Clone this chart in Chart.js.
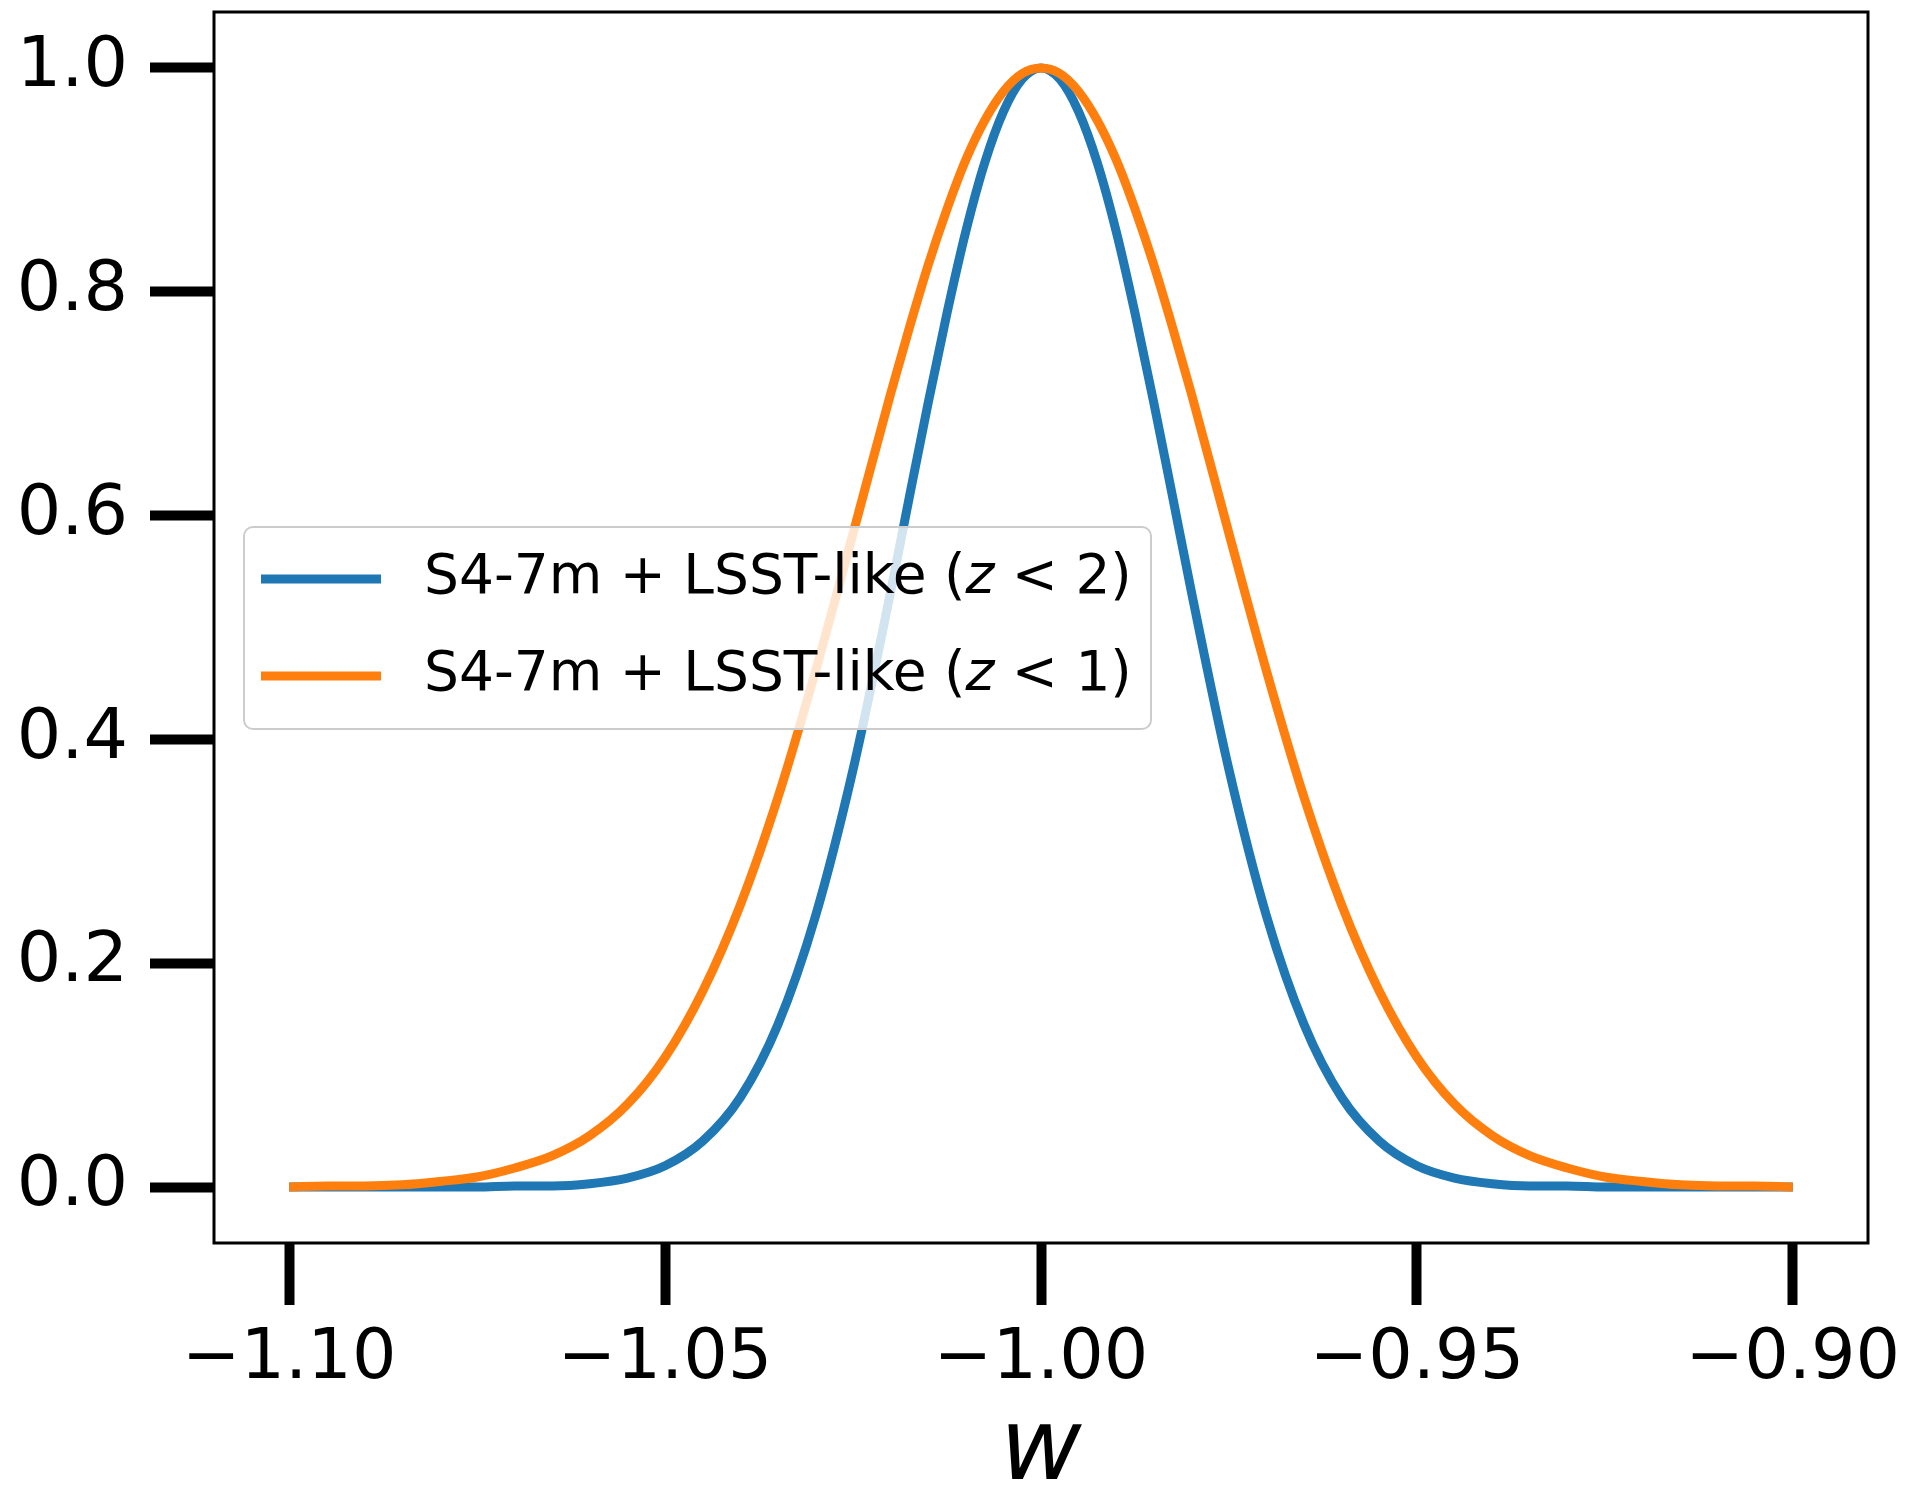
<!DOCTYPE html>
<html>
<head>
<meta charset="utf-8">
<title>w posterior</title>
<script src="https://cdn.jsdelivr.net/npm/chart.js@4.4.1/dist/chart.umd.min.js"></script>
<style>
  html, body { margin: 0; padding: 0; background: #ffffff; }
  #chart-container { width: 1910px; height: 1496px; position: relative; }
</style>
</head>
<body>
<div id="chart-container"><canvas id="chart"></canvas></div>
<script>
// values: w from -1.10 to -0.90, every 0.005 (every 0.0025 near the peak)
const wValues = [
  -1.100, -1.095, -1.090, -1.085, -1.080, -1.075, -1.070, -1.065, -1.060, -1.055,
  -1.050, -1.045, -1.040, -1.035, -1.030, -1.025,
  -1.020, -1.0175, -1.015, -1.0125, -1.010, -1.0075, -1.005, -1.0025,
  -1.000,
  -0.9975, -0.995, -0.9925, -0.990, -0.9875, -0.985, -0.9825, -0.980,
  -0.975, -0.970, -0.965, -0.960, -0.955,
  -0.950, -0.945, -0.940, -0.935, -0.930, -0.925, -0.920, -0.915, -0.910, -0.905,
  -0.900
];

const blueValues = [
  0.000, 0.000, 0.000, 0.000, 0.000, 0.000, 0.001, 0.001, 0.003, 0.008,
  0.019, 0.041, 0.080, 0.145, 0.242, 0.373,
  0.532, 0.617, 0.701, 0.781, 0.854, 0.915, 0.961, 0.990,
  1.000,
  0.990, 0.961, 0.915, 0.854, 0.781, 0.701, 0.617, 0.532,
  0.373, 0.242, 0.145, 0.080, 0.041,
  0.019, 0.008, 0.003, 0.001, 0.001, 0.000, 0.000, 0.000, 0.000, 0.000,
  0.000
];

const orangeValues = [
  0.000, 0.001, 0.001, 0.002, 0.005, 0.009, 0.017, 0.028, 0.046, 0.074,
  0.116, 0.175, 0.252, 0.348, 0.461, 0.584,
  0.709, 0.768, 0.824, 0.874, 0.918, 0.953, 0.979, 0.995,
  1.000,
  0.995, 0.979, 0.953, 0.918, 0.874, 0.824, 0.768, 0.709,
  0.584, 0.461, 0.348, 0.252, 0.175,
  0.116, 0.074, 0.046, 0.028, 0.017, 0.009, 0.005, 0.002, 0.001, 0.001,
  0.000
];

const seriesLabels = ["S4-7m + LSST-like (z < 2)", "S4-7m + LSST-like (z < 1)"];
const seriesColors = ["#1f77b4", "#ff7f0e"];

const xTicks = [-1.10, -1.05, -1.00, -0.95, -0.90];
const yTicks = [0.0, 0.2, 0.4, 0.6, 0.8, 1.0];

const FONT = "'DejaVu Sans', sans-serif";

function toPoints(xs, ys) {
  return xs.map((x, i) => ({ x: x, y: ys[i] }));
}

// matplotlib-like box round the axes
const framePlugin = {
  id: "frame",
  afterDatasetsDraw(chart) {
    const { ctx, chartArea } = chart;
    ctx.save();
    ctx.strokeStyle = "#000";
    ctx.lineWidth = 3;
    ctx.strokeRect(chartArea.left, chartArea.top, chartArea.right - chartArea.left, chartArea.bottom - chartArea.top);
    ctx.restore();
  },
};

// legend inside the axes, with an italic z like the mathtext label
const legendPlugin = {
  id: "insideLegend",
  afterDatasetsDraw(chart) {
    const { ctx, chartArea } = chart;
    const boxX = chartArea.left + 30;
    const boxY = 527;
    const boxW = 907;
    const boxH = 202;
    const fontSize = 55;

    ctx.save();
    ctx.beginPath();
    ctx.roundRect(boxX, boxY, boxW, boxH, 9);
    ctx.fillStyle = "rgba(255,255,255,0.8)";
    ctx.fill();
    ctx.strokeStyle = "#cccccc";
    ctx.lineWidth = 2;
    ctx.stroke();

    seriesLabels.forEach((label, i) => {
      const rowY = boxY + 52 + i * 97;
      ctx.beginPath();
      ctx.moveTo(boxX + 17, rowY);
      ctx.lineTo(boxX + 137, rowY);
      ctx.strokeStyle = seriesColors[i];
      ctx.lineWidth = 9;
      ctx.stroke();

      const zAt = label.indexOf("(z") + 1;
      const parts = [
        { text: label.slice(0, zAt), style: "normal" },
        { text: "z", style: "italic" },
        { text: label.slice(zAt + 1), style: "normal" },
      ];
      let tx = boxX + 180;
      ctx.fillStyle = "#000";
      ctx.textBaseline = "middle";
      ctx.textAlign = "left";
      parts.forEach((p) => {
        ctx.font = p.style + " " + fontSize + "px " + FONT;
        ctx.fillText(p.text, tx, rowY);
        tx += ctx.measureText(p.text).width;
      });
    });
    ctx.restore();
  },
};

const canvas = document.getElementById("chart");

new Chart(canvas.getContext("2d"), {
  type: "line",
  data: {
    datasets: [
      {
        label: seriesLabels[0],
        data: toPoints(wValues, blueValues),
        borderColor: seriesColors[0],
        borderWidth: 9,
        pointRadius: 0,
        cubicInterpolationMode: "monotone",
        fill: false,
        order: 1,
      },
      {
        label: seriesLabels[1],
        data: toPoints(wValues, orangeValues),
        borderColor: seriesColors[1],
        borderWidth: 9,
        pointRadius: 0,
        cubicInterpolationMode: "monotone",
        fill: false,
        order: 0,
      },
    ],
  },
  options: {
    responsive: true,
    maintainAspectRatio: false,
    animation: false,
    layout: { padding: { left: 0, top: 12, right: 42, bottom: 0 } },
    plugins: {
      legend: { display: false },
      tooltip: { enabled: false },
    },
    scales: {
      x: {
        type: "linear",
        min: -1.11,
        max: -0.89,
        afterBuildTicks: (scale) => {
          scale.ticks = xTicks.map((v) => ({ value: v }));
        },
        afterFit: (scale) => {
          scale.height = 253;
          scale.paddingLeft = 0;
          scale.paddingRight = 0;
        },
        border: { display: false },
        grid: {
          drawOnChartArea: false,
          drawTicks: true,
          tickLength: 62,
          tickWidth: 10,
          tickColor: "#000",
        },
        ticks: {
          color: "#000",
          padding: 13,
          maxRotation: 0,
          autoSkip: false,
          font: { family: FONT, size: 70 },
          callback: (v) => (v < 0 ? "\u2212" : "") + Math.abs(v).toFixed(2),
        },
        title: {
          display: true,
          text: "w",
          color: "#000",
          padding: { top: 0, bottom: 0 },
          font: { family: FONT, size: 100, style: "italic", lineHeight: 0.86 },
        },
      },
      y: {
        type: "linear",
        min: -0.05,
        max: 1.05,
        afterBuildTicks: (scale) => {
          scale.ticks = yTicks.map((v) => ({ value: v }));
        },
        afterFit: (scale) => {
          scale.width = 214;
          scale.paddingTop = 0;
          scale.paddingBottom = 0;
        },
        border: { display: false },
        grid: {
          drawOnChartArea: false,
          drawTicks: true,
          tickLength: 64,
          tickWidth: 10,
          tickColor: "#000",
        },
        ticks: {
          color: "#000",
          padding: 22,
          autoSkip: false,
          font: { family: FONT, size: 70 },
          callback: (v) => v.toFixed(1),
        },
      },
    },
  },
  plugins: [framePlugin, legendPlugin],
});
</script>
</body>
</html>
